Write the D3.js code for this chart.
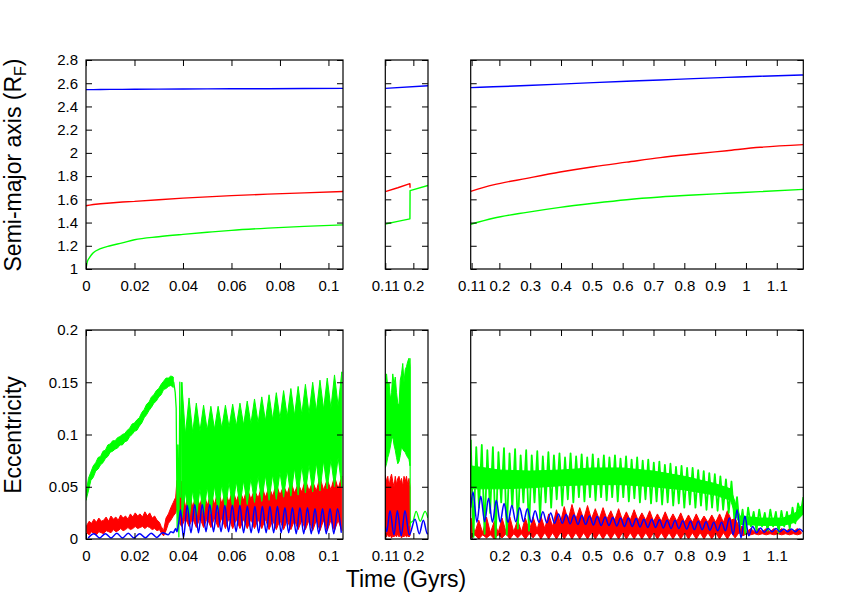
<!DOCTYPE html>
<html><head><meta charset="utf-8">
<script src="https://cdn.jsdelivr.net/npm/d3@7"></script>
<style>body{margin:0;background:#fff} svg text{font-family:"Liberation Sans",Arial,Helvetica,sans-serif}</style>
</head><body><svg id="c" width="856" height="599"></svg>
<script>
// ================= DATA =================
const panelDomains = [[0, 0.106], [0.11, 0.247], [0.107, 1.186]];
const xTicks1 = [0, 0.02, 0.04, 0.06, 0.08, 0.1];
const xTicks2 = [0.11, 0.2];
const xTicks3 = [0.11, 0.2, 0.3, 0.4, 0.5, 0.6, 0.7, 0.8, 0.9, 1, 1.1];
const aTicks = [1, 1.2, 1.4, 1.6, 1.8, 2, 2.2, 2.4, 2.6, 2.8];
const eTicks = [0, 0.05, 0.1, 0.15, 0.2];
const aDomain = [1, 2.8];
const eDomain = [0, 0.2];

// --- semi-major axis ---
const aTime1 = [0, 0.0005, 0.0015, 0.003, 0.006, 0.01, 0.015, 0.02, 0.03, 0.04, 0.05, 0.06, 0.075, 0.09, 0.106];
const aBlue1 = [2.545, 2.545, 2.545, 2.545, 2.546, 2.547, 2.547, 2.548, 2.549, 2.55, 2.551, 2.552, 2.553, 2.554, 2.556];
const aRed1 = [1.545, 1.547, 1.55, 1.555, 1.562, 1.569, 1.577, 1.582, 1.597, 1.61, 1.621, 1.632, 1.645, 1.656, 1.668];
const aGreen1 = [1.0, 1.06, 1.1, 1.14, 1.175, 1.2, 1.225, 1.252, 1.278, 1.298, 1.316, 1.333, 1.352, 1.367, 1.38];

const aTimeBlue2 = [0.11, 0.247];
const aBlue2 = [2.556, 2.578];
const aTimeRed2 = [0.11, 0.15, 0.189, 0.1895];
const aRed2 = [1.667, 1.70, 1.735, 1.70];
const aTimeGreen2 = [0.11, 0.15, 0.189, 0.1895, 0.247];
const aGreen2 = [1.388, 1.41, 1.432, 1.675, 1.72];

const aTime3 = [0.107, 0.18, 0.289, 0.397, 0.505, 0.613, 0.722, 0.83, 0.938, 1.046, 1.186];
const aBlue3 = [2.562, 2.569, 2.58, 2.592, 2.605, 2.617, 2.628, 2.64, 2.65, 2.66, 2.671];
const aRed3 = [1.669, 1.724, 1.781, 1.835, 1.881, 1.92, 1.959, 1.99, 2.019, 2.048, 2.071];
const aGreen3 = [1.385, 1.437, 1.488, 1.531, 1.566, 1.597, 1.62, 1.637, 1.652, 1.666, 1.686];

// --- eccentricity, panel 1 ---
const gEarlyStart1 = 0, gEarlyStep1 = 0.001;
const gHiEarly1 = [0.043,0.058,0.064,0.07,0.073,0.078,0.079,0.084,0.085,0.09,0.091,0.094,0.094,0.097,0.098,0.1,0.101,0.104,0.106,0.11,0.111,0.114,0.116,0.121,0.124,0.129,0.131,0.136,0.138,0.142,0.144,0.148,0.151,0.154,0.154,0.156,0.155];
const gLoEarly1 = [0.037,0.046,0.056,0.059,0.065,0.067,0.071,0.073,0.077,0.079,0.083,0.084,0.086,0.087,0.09,0.09,0.093,0.094,0.098,0.1,0.103,0.104,0.108,0.111,0.116,0.119,0.123,0.126,0.13,0.132,0.136,0.138,0.143,0.144,0.146,0.147,0.145];
const gTrT1 = [0.036, 0.0362, 0.0368, 0.0372, 0.0376, 0.0379, 0.0383, 0.0387, 0.039, 0.0395];
const gTrV1 = [0.15, 0.15, 0.14, 0.125, 0.01, 0.09, 0.002, 0.15, 0.04, 0.15];
const gBandStart1 = 0.0395, gBandStep1 = 0.0015;
const gPk1 = [0.15,0.135,0.13,0.128,0.127,0.127,0.128,0.129,0.13,0.132,0.134,0.136,0.138,0.14,0.142,0.144,0.146,0.148,0.15,0.152,0.154,0.157,0.16];
const gVa1 = [0.10,0.102,0.103,0.104,0.105,0.106,0.107,0.108,0.109,0.11,0.111,0.113,0.114,0.115,0.117,0.118,0.119,0.12,0.122,0.124,0.125,0.127];
const gDip1 = [0.02,0.018,0.02,0.022,0.024,0.026,0.028,0.03,0.032,0.033,0.035,0.036,0.037,0.038,0.04,0.041,0.042,0.044,0.045,0.046,0.048,0.05,0.05];
const gBump1 = [0.045,0.047,0.048,0.05,0.051,0.052,0.054,0.055,0.056,0.058,0.06,0.061,0.062,0.064,0.066,0.068,0.07,0.071,0.073,0.075,0.076,0.078];

const rEarlyStart1 = 0.0003, rEarlyStep1 = 0.001;
const rHiEarly1 = [0.013,0.017,0.015,0.019,0.016,0.02,0.017,0.018,0.021,0.017,0.022,0.019,0.021,0.018,0.023,0.02,0.022,0.019,0.024,0.021,0.025,0.022,0.024,0.021,0.026,0.022,0.025,0.02,0.022,0.018,0.016];
const rLoEarly1 = [0.006,0.004,0.007,0.005,0.004,0.007,0.006,0.005,0.008,0.007,0.006,0.009,0.007,0.008,0.01,0.008,0.009,0.011,0.009,0.01,0.012,0.01,0.011,0.012,0.01,0.012,0.011,0.009,0.01,0.008,0.009];
const rTrT1 = [0.031, 0.032, 0.033, 0.034, 0.035, 0.036, 0.037, 0.0375, 0.038, 0.0385, 0.0395];
const rTrHi1 = [0.012, 0.008, 0.02, 0.024, 0.03, 0.035, 0.04, 0.056, 0.05, 0.055, 0.055];
const rTrLo1 = [0.006, 0.003, 0.008, 0.015, 0.018, 0.022, 0.025, 0.03, 0.02, 0.015, 0.012];
const rBandStart1 = 0.0395, rBandStep1 = 0.0015;
const rPk1 = [0.055,0.045,0.042,0.046,0.044,0.047,0.045,0.048,0.046,0.049,0.047,0.051,0.05,0.053,0.051,0.055,0.053,0.057,0.055,0.059,0.057,0.06,0.06];
const rVa1 = [0.03,0.031,0.032,0.032,0.033,0.034,0.035,0.036,0.037,0.038,0.039,0.04,0.041,0.042,0.043,0.044,0.045,0.046,0.046,0.047,0.047,0.048];
const rDip1 = [0.012,0.012,0.011,0.011,0.011,0.011,0.01,0.01,0.01,0.01,0.01,0.01,0.009,0.009,0.009,0.009,0.009,0.009,0.008,0.008,0.008,0.008,0.008];
const rBump1 = [0.02,0.02,0.02,0.02,0.02,0.02,0.02,0.019,0.019,0.019,0.019,0.019,0.018,0.018,0.018,0.018,0.018,0.018,0.018,0.018,0.018,0.018];

const bEarlyStart1 = 0.0009, bEarlyStep1 = 0.00236;
const bEarly1 = [0.001,0.005,0.001,0.005,0.001,0.0055,0.001,0.0055,0.001,0.005,0.0012,0.0055,0.0015,0.006,0.004];
const bTrT1 = [0.035, 0.036, 0.037, 0.0375, 0.038, 0.0385, 0.039];
const bTrV1 = [0.007, 0.006, 0.01, 0.007, 0.012, 0.02, 0.028];
const bOscStart1 = 0.0402, bOscStep1 = 0.00155;
const bTrough1 = [0.001,0.006,0.006,0.007,0.007,0.007,0.007,0.007,0.006,0.006,0.006,0.006,0.006,0.006,0.006,0.005,0.005,0.005,0.005,0.005,0.005,0.006];
const bPeak1 = [0.032,0.033,0.033,0.033,0.032,0.032,0.032,0.032,0.031,0.031,0.031,0.031,0.031,0.03,0.03,0.03,0.03,0.029,0.029,0.029,0.029];

// --- eccentricity, panel 2 ---
const eTime2 = [0.11,0.114,0.118,0.122,0.126,0.13,0.134,0.138,0.142,0.146,0.15,0.154,0.158,0.162,0.166,0.17,0.174,0.178,0.182,0.186,0.1894];
const gHi2 = [0.15,0.158,0.145,0.15,0.134,0.14,0.158,0.148,0.155,0.14,0.13,0.128,0.152,0.158,0.168,0.15,0.162,0.165,0.17,0.173,0.165];
const gLo2 = [0.068,0.072,0.078,0.082,0.088,0.095,0.098,0.09,0.085,0.078,0.072,0.074,0.08,0.088,0.086,0.084,0.083,0.08,0.078,0.076,0.07];
const gAfterT2 = [0.1894, 0.1897, 0.1905, 0.2, 0.2087, 0.222, 0.2377, 0.247];
const gAfterV2 = [0.173, 0.012, 0.015, 0.018, 0.0265, 0.017, 0.0265, 0.02];
const rHi2 = [0.061,0.055,0.06,0.05,0.058,0.062,0.055,0.05,0.06,0.052,0.058,0.06,0.054,0.058,0.05,0.06,0.055,0.06,0.052,0.058,0.05];
const rLo2 = [0.004,0.002,0.005,0.002,0.004,0.001,0.003,0.002,0.004,0.002,0.005,0.002,0.004,0.001,0.003,0.002,0.004,0.002,0.003,0.002,0.003];
const bTime2 = [0.11, 0.1145, 0.125, 0.138, 0.1486, 0.161, 0.173, 0.187, 0.2055, 0.219, 0.232, 0.245, 0.247];
const bVal2 = [0.012, 0.007, 0.027, 0.004, 0.027, 0.003, 0.027, 0.004, 0.019, 0.005, 0.018, 0.005, 0.006];

// --- eccentricity, panel 3 ---
const bStart3 = 0.1145, bStep3 = 0.0126;
const bLead3 = [0.107, 0.03];
const bPk3 = [0.045,0.041,0.039,0.037,0.034,0.032,0.030,0.029,0.027,0.026,0.025,0.024,0.0235,0.023,0.0225,0.022,0.0215,0.021,0.0205,0.02,0.02,0.0195,0.019,0.019,0.0185,0.018,0.018,0.0175,0.017,0.017,0.0165,0.016,0.016,0.02,0.028,0.022,0.012,0.0105,0.01,0.01,0.0095,0.0095,0.0095];
const bTr3 = [0.016,0.0165,0.016,0.016,0.016,0.0165,0.0165,0.016,0.016,0.0155,0.015,0.015,0.0145,0.014,0.014,0.0135,0.013,0.013,0.0125,0.012,0.012,0.0115,0.011,0.011,0.0105,0.01,0.01,0.0095,0.009,0.009,0.0085,0.008,0.008,0.004,0.001,0.003,0.006,0.0065,0.007,0.007,0.007,0.007,0.007];

const rStart3 = 0.108, rStep3 = 0.0126;
const rPk3 = [0.02,0.018,0.021,0.017,0.02,0.021,0.018,0.02,0.021,0.022,0.024,0.028,0.031,0.033,0.03,0.032,0.029,0.03,0.027,0.029,0.026,0.028,0.025,0.027,0.024,0.026,0.024,0.025,0.023,0.024,0.022,0.023,0.024,0.027,0.02,0.012,0.01,0.01,0.01,0.01,0.01,0.01,0.01];
const rVa3 = [0.006,0.006,0.006,0.006,0.007,0.007,0.007,0.008,0.009,0.01,0.012,0.015,0.018,0.019,0.019,0.019,0.019,0.019,0.018,0.018,0.018,0.018,0.018,0.017,0.017,0.017,0.017,0.016,0.016,0.016,0.016,0.016,0.016,0.018,0.012,0.007,0.007,0.007,0.007,0.007,0.007,0.007,0.007];
const rDip3 = [0.001,0.0,0.001,0.0,0.001,0.0,0.001,0.0,0.001,0.0,0.0,0.0,0.0,0.0,0.0,0.0,0.0,0.0,0.0,0.0,0.0,0.0,0.0,0.0,0.0,0.0,0.0,0.0,0.0,0.0,0.0,0.0,0.0,0.0,0.001,0.003,0.004,0.004,0.004,0.004,0.004,0.004,0.004];
const rBump3 = [0.004,0.004,0.004,0.004,0.005,0.005,0.005,0.005,0.006,0.006,0.006,0.006,0.006,0.006,0.006,0.006,0.006,0.006,0.006,0.006,0.006,0.006,0.006,0.006,0.006,0.006,0.006,0.006,0.006,0.006,0.006,0.006,0.006,0.006,0.006,0.005,0.005,0.005,0.005,0.005,0.005,0.005,0.005];

const gCoreT3 = [0.107,0.2,0.3,0.4,0.5,0.6,0.7,0.8,0.9,0.95,0.965,0.98,1.05,1.12,1.16,1.186];
const gCoreHi3 = [0.07,0.066,0.065,0.066,0.068,0.068,0.065,0.06,0.053,0.048,0.035,0.022,0.02,0.02,0.025,0.034];
const gCoreLo3 = [0.048,0.048,0.049,0.051,0.052,0.052,0.05,0.047,0.042,0.037,0.024,0.014,0.013,0.013,0.016,0.024];
const gStart3 = 0.107, gStep3 = 0.009;
const gUp3 = [0.095,0.088,0.09,0.085,0.088,0.083,0.087,0.082,0.086,0.08,0.085,
  0.08,0.084,0.079,0.083,0.08,0.082,0.078,0.082,0.079,0.081,
  0.078,0.081,0.077,0.08,0.078,0.08,0.077,0.079,0.076,0.078,
  0.075,0.076,0.073,0.074,0.071,0.072,0.069,0.07,0.068,0.068,
  0.066,0.065,0.063,0.062,0.06,0.057,0.055,
  0.04,0.028,0.03,0.026,0.028,0.025,0.028,0.026,0.027,0.026,0.03,0.034];
const gDn3 = [0.002,0.03,0.005,0.025,0.0,0.035,0.004,0.03,0.01,0.035,0.008,0.035,0.02,
  0.035,0.03,0.038,0.032,0.038,0.035,0.04,0.036,0.04,0.037,0.04,0.037,0.04,0.036,0.04,0.036,0.039,0.035,
  0.038,0.034,0.036,0.033,0.035,0.032,0.034,0.03,0.033,0.03,0.032,0.028,0.03,0.027,0.028,0.025,0.02,
  0.01,0.005,0.012,0.008,0.012,0.008,0.012,0.006,0.012,0.01,0.015,0.025];
const gEnd3 = [1.186, 0.04];

// ================= HELPERS =================
const RED = "#ff0000", GREEN = "#00ff00", BLUE = "#0000ff";
function interleave(a, b) { const o = []; const n = Math.max(a.length, b.length); for (let i = 0; i < n; i++) { if (i < a.length) o.push(a[i]); if (i < b.length) o.push(b[i]); } return o; }
function onGrid(t0, step, vals) { return vals.map((v, i) => ({t: t0 + i * step, v})); }
function pairs(ts, vs) { return ts.map((t, i) => ({t, v: vs[i]})); }
function bandGrid(t0, step, hi, lo) { return hi.map((h, i) => ({t: t0 + i * step, hi: h, lo: lo[i]})); }
function bandPairs(ts, hi, lo) { return ts.map((t, i) => ({t, hi: hi[i], lo: lo[i]})); }

const svg = d3.select("#c");
const cols = [[86, 343], [385.3, 428], [470.7, 803.3]];
const rowRanges = {a: [269, 60], e: [539, 330]};
const fmt = d3.format("~g");
const defs = svg.append("defs");
const FONT = "Liberation Sans, Arial, sans-serif";

function panel(row, ci, xTicks, showXLabel, showYLabel) {
  const x = d3.scaleLinear().domain(panelDomains[ci]).range(cols[ci]);
  const y = d3.scaleLinear().domain(row === "a" ? aDomain : eDomain).range(rowRanges[row]);
  const id = "clip-" + row + ci;
  defs.append("clipPath").attr("id", id).append("rect")
    .attr("x", cols[ci][0]).attr("y", rowRanges[row][1])
    .attr("width", cols[ci][1] - cols[ci][0]).attr("height", rowRanges[row][0] - rowRanges[row][1]);
  const g = svg.append("g");
  const data = g.append("g").attr("clip-path", `url(#${id})`);
  const axes = g.append("g");
  const yt = row === "a" ? aTicks : eTicks;
  const styleAxis = sel => { sel.select(".domain").remove(); sel.selectAll("line").attr("stroke", "#000").attr("stroke-width", 1);
    sel.selectAll("text").attr("font-size", 15).attr("fill", "#000").attr("font-family", FONT); };
  axes.append("g").attr("transform", `translate(0,${rowRanges[row][0]})`)
    .call(d3.axisBottom(x).tickValues(xTicks).tickSize(-6).tickPadding(11).tickFormat(d => showXLabel(d) ? fmt(d) : ""))
    .call(styleAxis);
  axes.append("g").attr("transform", `translate(0,${rowRanges[row][1]})`)
    .call(d3.axisTop(x).tickValues(xTicks).tickSize(-6).tickFormat(""))
    .call(styleAxis);
  axes.append("g").attr("transform", `translate(${cols[ci][0]},0)`)
    .call(d3.axisLeft(y).tickValues(yt).tickSize(-6).tickPadding(8).tickFormat(showYLabel ? fmt : ""))
    .call(styleAxis);
  axes.append("g").attr("transform", `translate(${cols[ci][1]},0)`)
    .call(d3.axisRight(y).tickValues(yt).tickSize(-6).tickFormat(""))
    .call(styleAxis);
  axes.append("rect").attr("x", cols[ci][0]).attr("y", rowRanges[row][1])
    .attr("width", cols[ci][1] - cols[ci][0]).attr("height", rowRanges[row][0] - rowRanges[row][1])
    .attr("fill", "none").attr("stroke", "#000").attr("stroke-width", 1.2);
  return {x, y, data};
}

function drawLine(p, pts, color, curve, w) {
  const gen = d3.line().x(d => p.x(d.t)).y(d => p.y(d.v)).curve(curve || d3.curveLinear);
  p.data.append("path").attr("d", gen(pts)).attr("fill", "none").attr("stroke", color)
    .attr("stroke-width", w || 1.4).attr("stroke-linejoin", "round");
}
function drawBand(p, pts, color) {
  const gen = d3.area().x(d => p.x(d.t)).y0(d => p.y(d.lo)).y1(d => p.y(d.hi));
  p.data.append("path").attr("d", gen(pts)).attr("fill", color).attr("stroke", color)
    .attr("stroke-width", 1).attr("stroke-linejoin", "round");
}

// ================= TOP ROW =================
const lbl = () => true;
const pA1 = panel("a", 0, xTicks1, lbl, true);
drawLine(pA1, pairs(aTime1, aRed1), RED);
drawLine(pA1, pairs(aTime1, aGreen1), GREEN, d3.curveMonotoneX);
drawLine(pA1, pairs(aTime1, aBlue1), BLUE);

const pA2 = panel("a", 1, xTicks2, lbl, false);
drawLine(pA2, pairs(aTimeRed2, aRed2), RED);
drawLine(pA2, pairs(aTimeGreen2, aGreen2), GREEN);
drawLine(pA2, pairs(aTimeBlue2, aBlue2), BLUE);

const pA3 = panel("a", 2, xTicks3, lbl, false);
drawLine(pA3, pairs(aTime3, aRed3), RED, d3.curveMonotoneX);
drawLine(pA3, pairs(aTime3, aGreen3), GREEN, d3.curveMonotoneX);
drawLine(pA3, pairs(aTime3, aBlue3), BLUE, d3.curveMonotoneX);

// ================= BOTTOM ROW =================
const pE1 = panel("e", 0, xTicks1, lbl, true);
drawBand(pE1, bandGrid(rEarlyStart1, rEarlyStep1, rHiEarly1, rLoEarly1)
  .concat(bandPairs(rTrT1, rTrHi1, rTrLo1))
  .concat(bandGrid(rBandStart1, rBandStep1, interleave(rPk1, rVa1), interleave(rDip1, rBump1))), RED);
drawBand(pE1, bandGrid(gEarlyStart1, gEarlyStep1, gHiEarly1, gLoEarly1), GREEN);
drawLine(pE1, pairs(gTrT1, gTrV1), GREEN, d3.curveLinear, 1.3);
drawBand(pE1, bandGrid(gBandStart1, gBandStep1, interleave(gPk1, gVa1), interleave(gDip1, gBump1)), GREEN);
drawLine(pE1, onGrid(bEarlyStart1, bEarlyStep1, bEarly1)
  .concat(pairs(bTrT1, bTrV1))
  .concat(onGrid(bOscStart1, bOscStep1, interleave(bTrough1, bPeak1))), BLUE, d3.curveMonotoneX, 1.5);

const pE2 = panel("e", 1, xTicks2, lbl, false);
drawBand(pE2, bandPairs(eTime2, rHi2, rLo2), RED);
drawBand(pE2, bandPairs(eTime2, gHi2, gLo2), GREEN);
drawLine(pE2, pairs(gAfterT2, gAfterV2), GREEN, d3.curveMonotoneX, 1.3);
drawLine(pE2, pairs(bTime2, bVal2), BLUE, d3.curveMonotoneX, 1.5);

const pE3 = panel("e", 2, xTicks3, d => d !== 0.11, false);
drawBand(pE3, bandGrid(rStart3, rStep3, interleave(rPk3, rVa3), interleave(rDip3, rBump3)), RED);
drawBand(pE3, bandPairs(gCoreT3, gCoreHi3, gCoreLo3), GREEN);
drawLine(pE3, onGrid(gStart3, gStep3, interleave(gUp3, gDn3)).concat([{t: gEnd3[0], v: gEnd3[1]}]), GREEN, d3.curveLinear, 1.8);
drawLine(pE3, [{t: bLead3[0], v: bLead3[1]}].concat(onGrid(bStart3, bStep3, interleave(bPk3, bTr3))), BLUE, d3.curveMonotoneX, 1.5);

// ================= TITLES =================
const yt1 = svg.append("text").attr("transform", "translate(21,165) rotate(-90)")
  .attr("text-anchor", "middle").attr("font-size", 23).attr("fill", "#000");
yt1.append("tspan").text("Semi-major axis (R");
yt1.append("tspan").attr("font-size", 16).attr("dy", 5).text("F");
yt1.append("tspan").attr("dy", -5).text(")");
svg.append("text").attr("transform", "translate(21,435) rotate(-90)")
  .attr("text-anchor", "middle").attr("font-size", 23).attr("fill", "#000").text("Eccentricity");
svg.append("text").attr("x", 406).attr("y", 587).attr("text-anchor", "middle")
  .attr("font-size", 23).attr("fill", "#000").text("Time (Gyrs)");
</script></body></html>
